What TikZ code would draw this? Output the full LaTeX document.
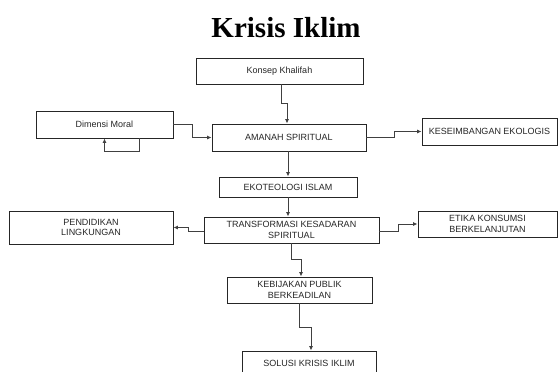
\documentclass[tikz,border=0pt]{standalone}
\usepackage{fontspec}
\setmainfont{Liberation Serif}
\newfontfamily\boxfont{Liberation Sans}
\usetikzlibrary{arrows.meta}
\begin{document}
\begin{tikzpicture}[x=1pt,y=-1pt,
  box/.style={draw=black!85, line width=0.9pt, rectangle, inner sep=0pt, align=center,
    font=\boxfont\fontsize{9}{10.2}\selectfont, text=black!85},
  arr/.style={draw=black!75, line width=0.9pt, -{Latex[length=4.5pt,width=4pt]}}]
\useasboundingbox (0,0) rectangle (558,372);
\fill[white] (0,0) rectangle (558,372);
\node[anchor=base, font=\fontsize{29}{32}\selectfont\bfseries] (title) at (286,37.7) {Krisis Iklim};
\node[box, minimum width=167, minimum height=26] (konsep) at (279.5,71) {Konsep Khalifah};
\node[box, minimum width=154, minimum height=27] (amanah) at (289,137.5) {AMANAH SPIRITUAL};
\node[box, minimum width=137, minimum height=27] (dimensi) at (104.5,124.5) {Dimensi Moral};
\node[box, minimum width=135, minimum height=27] (kesei) at (489.5,131.5) {KESEIMBANGAN EKOLOGIS};
\node[box, minimum width=138, minimum height=20] (eko) at (288,187) {EKOTEOLOGI ISLAM};
\node[box, minimum width=175, minimum height=26] (trans) at (291.5,230) {TRANSFORMASI KESADARAN\\SPIRITUAL};
\node[box, minimum width=164, minimum height=33] (pend) at (91,227.5) {PENDIDIKAN\\LINGKUNGAN};
\node[box, minimum width=139, minimum height=26] (etika) at (487.5,224) {ETIKA KONSUMSI\\BERKELANJUTAN};
\node[box, minimum width=145, minimum height=26] (kebij) at (299.5,290) {KEBIJAKAN PUBLIK\\BERKEADILAN};
\node[box, minimum width=134, minimum height=25] (solusi) at (309,363.5) {SOLUSI KRISIS IKLIM};
% connectors
\draw[arr] ([xshift=2pt]konsep.south) -- ++(0,19) -| ([xshift=-2pt]amanah.north);
\draw[arr] (dimensi.east) -- ++(19,0) |- (amanah.west);
\draw[arr] ([xshift=35pt]dimensi.south) -- ++(0,13) -| (dimensi.south);
\draw[arr] (amanah.east) -- ++(28,0) |- (kesei.west);
\draw[arr] (amanah.south -| eko.north) -- (eko.north);
\draw[arr] (eko.south) -- (eko.south |- trans.north);
\draw[arr] ([yshift=-1pt]trans.west) -- ++(-15,0) |- (pend.east);
\draw[arr] ([yshift=-1pt]trans.east) -- ++(19,0) |- (etika.west);
\draw[arr] (trans.south) -- ++(0,16) -| ([xshift=1.5pt]kebij.north);
\draw[arr] (kebij.south) -- ++(0,24) -| ([xshift=2pt]solusi.north);
\end{tikzpicture}
\end{document}
